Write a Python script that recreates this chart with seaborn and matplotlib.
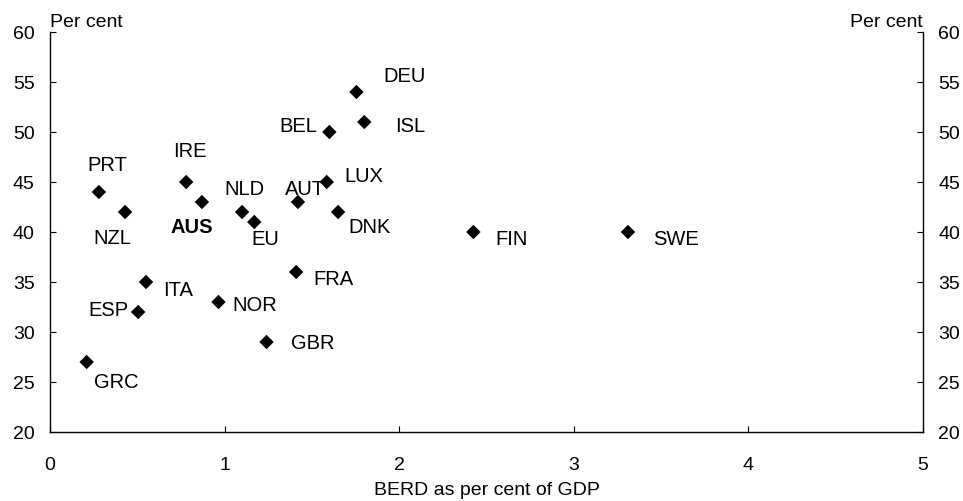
import matplotlib
matplotlib.use("Agg")
import matplotlib.pyplot as plt
import seaborn as sns
import pandas as pd

# ---- data ----
countries = ["PRT", "NZL", "IRE", "AUS", "NLD", "EU", "AUT", "LUX", "BEL", "DNK",
             "DEU", "ISL", "FIN", "SWE", "ITA", "ESP", "NOR", "GBR", "FRA", "GRC"]
berd = [0.28, 0.43, 0.78, 0.87, 1.10, 1.17, 1.42, 1.585, 1.60, 1.65,
        1.755, 1.80, 2.425, 3.31, 0.55, 0.505, 0.965, 1.24, 1.41, 0.21]
share = [44, 42, 45, 43, 42, 41, 43, 45, 50, 42,
         54, 51, 40, 40, 35, 32, 33, 29, 36, 27]
x_ticks = [0, 1, 2, 3, 4, 5]
y_ticks = [20, 25, 30, 35, 40, 45, 50, 55, 60]
x_title = "BERD as per cent of GDP"
unit_label = "Per cent"

# label offsets (pixels, centre of text relative to marker)
label_offsets = {
    "PRT": (8, -27), "NZL": (-13, 26), "IRE": (4, -31), "AUS": (-10, 25),
    "NLD": (2, -23), "EU": (11, 17), "AUT": (7, -13), "LUX": (37, -6),
    "BEL": (-31, -6), "DNK": (31, 15), "DEU": (48, -16), "ISL": (46, 4),
    "FIN": (38, 7), "SWE": (48, 7), "ITA": (32, 8), "ESP": (-30, -2),
    "NOR": (36, 3), "GBR": (46, 1), "FRA": (37, 7), "GRC": (30, 20),
}

df = pd.DataFrame({"country": countries, "berd": berd, "share": share})

sns.set_theme(style="white")
plt.rcParams["font.family"] = ["Liberation Sans", "DejaVu Sans"]

fig = plt.figure(figsize=(9.63, 5.02), dpi=100)
ax = fig.add_axes([50 / 963, 1 - 433 / 502, (923 - 50) / 963, 400 / 502])

sns.scatterplot(data=df, x="berd", y="share", marker="D", s=54, color="black",
                edgecolor="none", linewidth=0, ax=ax, legend=False, zorder=3)

px = 0.72  # points per pixel at dpi 100
for c, xv, yv in zip(countries, berd, share):
    dx, dy = label_offsets[c]
    ax.annotate(c, (xv, yv), xytext=(dx * px, -dy * px), textcoords="offset points",
                ha="center", va="center", fontsize=14.5,
                fontweight="bold" if c == "AUS" else "normal", color="black")

ax.set_xlim(0, 5)
ax.set_ylim(20, 60)
ax.set_xticks(x_ticks)
ax.set_yticks(y_ticks)
ax.set_xticklabels([str(t) for t in x_ticks])
ax.set_yticklabels([str(t) for t in y_ticks])

for side in ["left", "right", "bottom"]:
    ax.spines[side].set_visible(True)
    ax.spines[side].set_color("black")
    ax.spines[side].set_linewidth(1.0)
ax.spines["top"].set_visible(False)

ax.tick_params(axis="y", which="both", direction="in", length=4, width=0.8,
               left=True, right=True, labelleft=True, labelright=True,
               labelsize=14, pad=11, colors="black")
ax.tick_params(axis="x", direction="in", length=4, width=0.8, bottom=True,
               labelsize=14, pad=17, colors="black")

ax.set_xlabel(x_title, fontsize=14, labelpad=6, color="black")
ax.set_ylabel("")
ax.grid(False)

ax.text(0.0, 1.005, unit_label, transform=ax.transAxes, ha="left", va="bottom",
        fontsize=14, color="black")
ax.text(1.0, 1.005, unit_label, transform=ax.transAxes, ha="right", va="bottom",
        fontsize=14, color="black")

fig.savefig("out.png", dpi=100, facecolor="white")
